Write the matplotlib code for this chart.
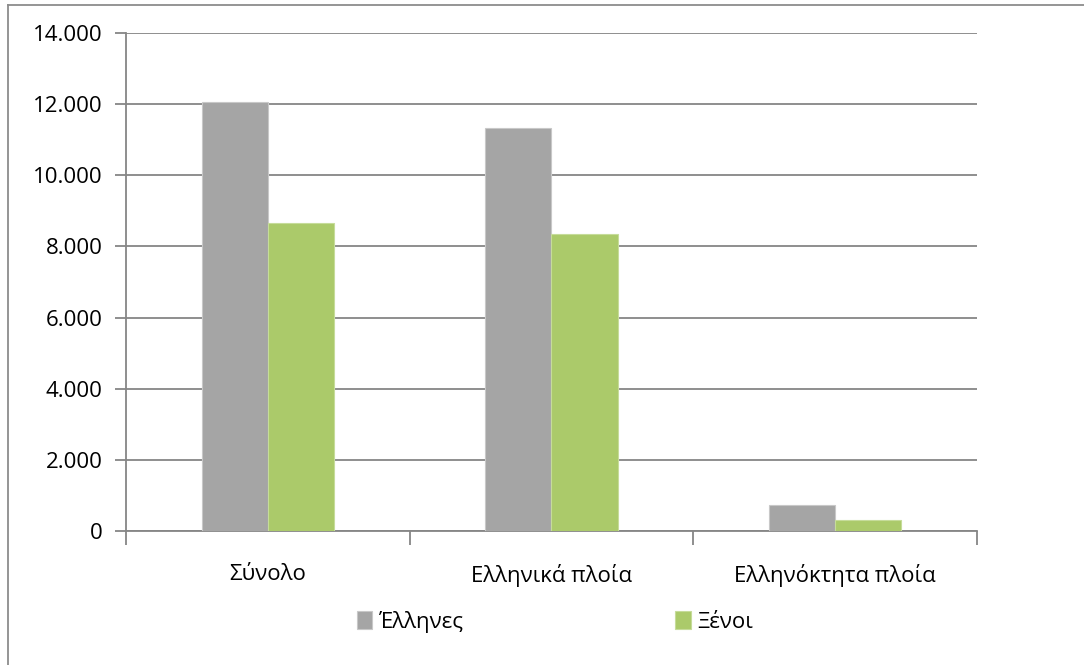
import matplotlib
matplotlib.use("Agg")
import matplotlib.pyplot as plt
import numpy as np
from matplotlib.lines import Line2D
from matplotlib.ticker import FuncFormatter

plt.rcParams['font.family'] = ['Open Sans', 'DejaVu Sans']

categories = ['Σύνολο', 'Ελληνικά πλοία', 'Ελληνόκτητα πλοία']
series_names = ['Έλληνες', 'Ξένοι']
greeks = [12060, 11330, 730]
foreigners = [8660, 8350, 300]
yticks = [0, 2000, 4000, 6000, 8000, 10000, 12000, 14000]

colors = ['#a5a5a5', '#abca6a']
grid_color = '#868686'
fs = 16

fig = plt.figure(figsize=(10.84, 6.65), dpi=100)
ax = fig.add_axes([0.1162, 0.2015, 0.7851, 0.7489])

x = np.arange(len(categories))
width = 0.233
ax.bar(x - width / 2, greeks, width, color=colors[0], edgecolor='#c8c8c8',
       linewidth=0.8, label=series_names[0], zorder=3)
ax.bar(x + width / 2, foreigners, width, color=colors[1], edgecolor='#c6dc9a',
       linewidth=0.8, label=series_names[1], zorder=3)

ax.set_xlim(-0.5, len(categories) - 0.5)
ax.set_ylim(0, 14000)
ax.set_yticks(yticks)
ax.yaxis.set_major_formatter(FuncFormatter(lambda v, _: f'{int(v):,}'.replace(',', '.')))
ax.grid(axis='y', color=grid_color, linewidth=1.3, zorder=0)

for side in ['top', 'right']:
    ax.spines[side].set_visible(False)
for side in ['left', 'bottom']:
    ax.spines[side].set_color(grid_color)
    ax.spines[side].set_linewidth(1.3)

# category labels between the divider ticks
ax.set_xticks(x)
ax.set_xticklabels(categories, fontsize=fs)
ax.tick_params(axis='x', length=0, pad=24, labelcolor='black')
ax.set_xticks(np.arange(-0.5, len(categories)), minor=True)
ax.tick_params(axis='x', which='minor', length=10, width=1.3, color=grid_color, direction='out')
ax.tick_params(axis='y', length=8, width=1.3, color=grid_color, labelsize=fs, pad=9,
               labelcolor='black')

fig.legend(loc='center', bbox_to_anchor=(0.512, 0.065), ncol=2, frameon=False,
           fontsize=fs, handlelength=0.7, handleheight=0.9, handletextpad=0.3,
           columnspacing=9.5)

# outer frame, only left and top edges visible
fig.add_artist(Line2D([0.0074, 0.0074], [0, 0.9925], transform=fig.transFigure,
                      color='#8c8c8c', linewidth=1.3))
fig.add_artist(Line2D([0.0074, 1.0], [0.9925, 0.9925], transform=fig.transFigure,
                      color='#8c8c8c', linewidth=1.3))

fig.savefig('out.png', dpi=100)
